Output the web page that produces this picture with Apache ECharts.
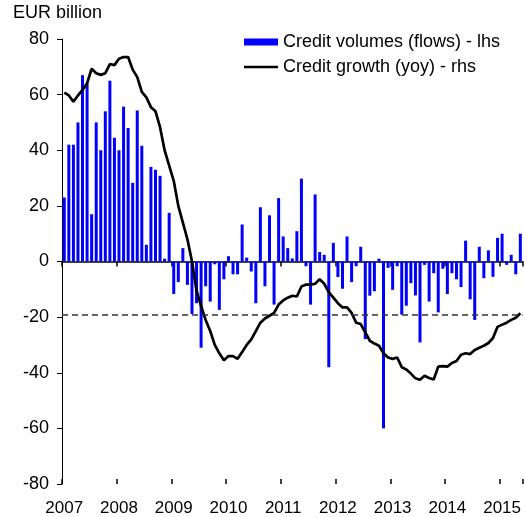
<!DOCTYPE html>
<html>
<head>
<meta charset="utf-8">
<script src="https://cdn.jsdelivr.net/npm/echarts@6/dist/echarts.min.js"></script>
<style>
  html, body { margin: 0; padding: 0; background: #fff; }
  #chart { width: 524px; height: 517px; }
</style>
</head>
<body>
<div id="chart"></div>
<script>
// monthly, Jan 2007 .. May 2015
var years = ['2007', '2008', '2009', '2010', '2011', '2012', '2013', '2014', '2015'];
var months = [];
years.forEach(function (y) {
  for (var m = 1; m <= 12; m++) months.push(y + '-' + (m < 10 ? '0' : '') + m);
});
months = months.slice(0, 101);

// credit volumes (flows), EUR billion - lhs
var volumes = [
  23, 42, 42, 50, 67, 64, 17, 50, 40, 54, 65, 44.5,
  40, 55.7, 48, 28.3, 54.3, 41.6, 6, 34, 33, 30.8, 1, 17.5,
  -11.7, -7.4, 4.8, -8.4, -18.9, -15, -31, -8.9, -14.4, -1, -17.4, -6.4,
  1.9, -4.6, -4.6, 13.3, 1.4, -3.6, -15, 19.5, -8.9, 16.6, -15.5, 22.8,
  9, 4.8, 1.1, 10.9, 29.8, -1.7, -15.5, 24.1, 3.4, 2.4, -38, 6.7,
  -5.6, -9.8, 9, -7.4, -1.7, 5.3, -27.9, -12.3, -10.7, 1, -60, -2.3,
  -10.2, -1.7, -19.1, -15.9, -7.8, -12.2, -29.1, -1.2, -14.4, -4.2, -18.3, -2.6,
  -11.7, -4.2, -6.4, -9.2, 7.5, -13.6, -21, 5.3, -6, 4, -5.5, 8.5,
  10, -1.2, 2.4, -4.6, 10
];

var growth = [
  60.7, 59.7, 57.5, 59.7, 61.7, 64.1, 69.3, 67.7, 67.1, 67.7, 71, 70.6,
  72.9, 73.5, 73.5, 69, 66.3, 61, 59, 55.5, 54, 48.3, 40, 34.5,
  29, 20, 14, 8, 0, -10.5, -16, -21, -25, -30, -33, -35.5,
  -34, -34, -35, -32.5, -30, -28, -25, -22, -20.5, -19.5, -18.5, -15.5,
  -14, -13, -12.3, -12.6, -9, -8.3, -8.3, -8, -6.4, -8, -11, -13,
  -15, -16.5, -16.5, -18.5, -22, -22.5, -25.5, -28.5, -29.5, -30.3, -33, -34.5,
  -35, -34.5, -38, -38.8, -40.3, -42, -42.5, -41.1, -41.9, -42.4, -37.8, -37.6,
  -37.8, -36.5, -35.8, -33.5, -33, -33.3, -31.8, -31, -30.3, -29.3, -27.5, -23.5,
  -22.7, -22, -21, -20.2, -18.6
];

var refLevel = -19;
var yTicks = { min: -80, max: 80, step: 20 };

var FONT = 'Liberation Sans, Arial, sans-serif';
var isJan = function (idx) { return idx % 12 === 0; };

var chart = echarts.init(document.getElementById('chart'), null, { renderer: 'canvas' });

var option = {
  animation: false,
  backgroundColor: '#ffffff',
  textStyle: { fontFamily: FONT },
  title: {
    text: 'EUR billion',
    left: 13,
    top: 4,
    padding: 0,
    textStyle: { fontSize: 18, fontWeight: 'normal', color: '#000', fontFamily: FONT }
  },
  legend: {
    orient: 'vertical',
    left: 244,
    top: 33,
    padding: 0,
    itemWidth: 34,
    itemHeight: 7,
    itemGap: 7,
    itemTextGap: 5,
    textStyle: { fontSize: 18, color: '#000', fontFamily: FONT },
    data: [
      { name: 'Credit volumes (flows) - lhs', icon: 'rect' },
      { name: 'Credit growth (yoy) - rhs', icon: 'path://M0,0 H34 V2.6 H0 Z', itemStyle: { color: '#000' } }
    ]
  },
  grid: { left: 62, right: 1, top: 39, bottom: 33 },
  xAxis: [
    {
      // year labels along the bottom
      type: 'category',
      data: months,
      position: 'bottom',
      axisLine: { show: false, onZero: false },
      axisTick: { show: false },
      axisLabel: {
        interval: isJan,
        formatter: function (v) { return v.slice(0, 4); },
        fontSize: 17,
        color: '#000',
        margin: 16,
        fontFamily: FONT
      },
      splitLine: { show: false }
    },
    {
      // zero line, ticks below
      type: 'category',
      data: months,
      position: 'bottom',
      axisLine: { show: true, onZero: true, lineStyle: { color: '#000', width: 1.5 } },
      axisTick: { show: true, interval: isJan, length: 5, lineStyle: { color: '#000', width: 1.5 } },
      axisLabel: { show: false },
      splitLine: { show: false }
    },
    {
      // ticks above the zero line
      type: 'category',
      data: months,
      position: 'bottom',
      axisLine: { show: true, onZero: true, lineStyle: { color: '#000', width: 1.5, opacity: 0 } },
      axisTick: { show: true, inside: true, interval: isJan, length: 5, lineStyle: { color: '#000', width: 1.5, opacity: 1 } },
      axisLabel: { show: false },
      splitLine: { show: false }
    }
  ],
  yAxis: {
    type: 'value',
    min: yTicks.min,
    max: yTicks.max,
    interval: yTicks.step,
    axisLine: { show: true, lineStyle: { color: '#000', width: 1 } },
    axisTick: { show: true, length: 5, lineStyle: { color: '#000' } },
    axisLabel: { fontSize: 18, color: '#000', margin: 13, fontFamily: FONT },
    splitLine: { show: false }
  },
  series: [
    {
      name: 'Credit volumes (flows) - lhs',
      type: 'bar',
      xAxisIndex: 0,
      data: volumes,
      barWidth: 3,
      itemStyle: { color: '#0000ff' },
      markLine: {
        silent: true,
        symbol: 'none',
        label: { show: false },
        lineStyle: { color: '#333', width: 1.5, type: [6, 4] },
        data: [{ yAxis: refLevel }]
      }
    },
    {
      name: 'Credit growth (yoy) - rhs',
      type: 'line',
      xAxisIndex: 0,
      data: growth,
      symbol: 'none',
      showSymbol: false,
      lineStyle: { color: '#000', width: 2.7 },
      itemStyle: { color: '#000' }
    }
  ]
};

chart.setOption(option);
</script>
</body>
</html>
